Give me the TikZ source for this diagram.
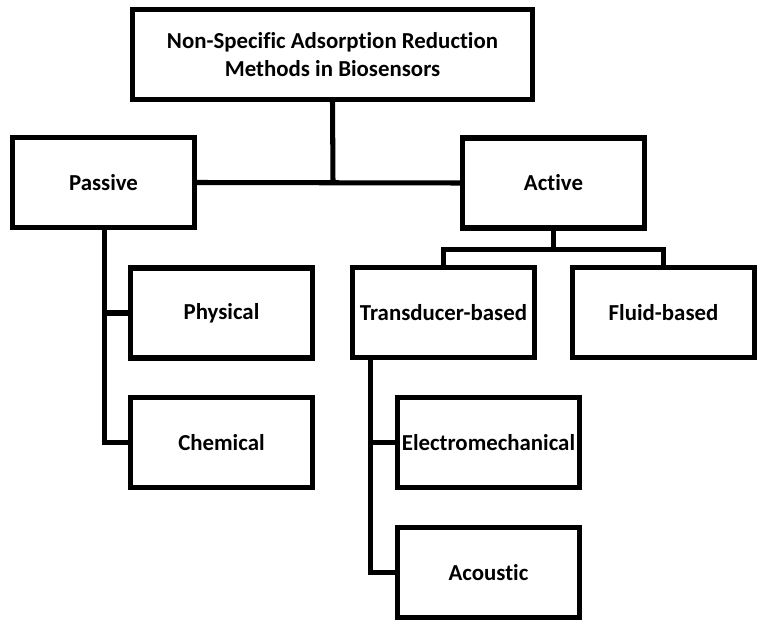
\documentclass[tikz,border=0pt]{standalone}
\usepackage{fontspec}
\setmainfont[Ligatures={NoCommon}]{Carlito}
\usepackage{tikz}

\begin{document}
\begin{tikzpicture}
  [x=0.03cm,y=-0.03cm,line width=4.3pt,
   every node/.style={draw,rectangle,line width=4.3pt,align=center,
     font=\bfseries\fontsize{19.5}{24}\selectfont,
     minimum width=5.46cm,minimum height=2.7cm,inner sep=0pt}]
  \useasboundingbox (0,0) rectangle (766,628);
  \node[minimum width=12cm] (top) at (332.5,54.5)
    {Non-Specific Adsorption Reduction\\Methods in Biosensors};
  \node (passive) at (103.5,182.5) {Passive};
  \node (active) at (553.5,183) {Active};
  \node (physical) at (221.5,313) {Physical};
  \node (chemical) at (221.5,442.5) {Chemical};
  \node (transducer) at (443.5,312.5) {Transducer-based};
  \node (fluid) at (663.5,312.5) {Fluid-based};
  \node (electro) at (488.5,442.5) {Electromechanical};
  \node (acoustic) at (488.5,572.5) {Acoustic};
  \coordinate (mid) at (333,182.5);
  \coordinate (afork) at (553.5,249.5);
  \coordinate (pline) at (104.5,0);
  \coordinate (tline) at (370.5,0);
  % top level
  \draw (top.south) -- (mid);
  \draw (passive.east) -- (active.west);
  % passive branch
  \draw (passive.south -| pline) |- (chemical.west);
  \draw (physical.west) -- (physical.west -| pline);
  % active branch
  \draw (active.south) -- (afork);
  \draw (transducer.north) |- (afork) -| (fluid.north);
  \draw (transducer.south -| tline) |- (acoustic.west);
  \draw (electro.west) -- (electro.west -| tline);
\end{tikzpicture}
\end{document}
